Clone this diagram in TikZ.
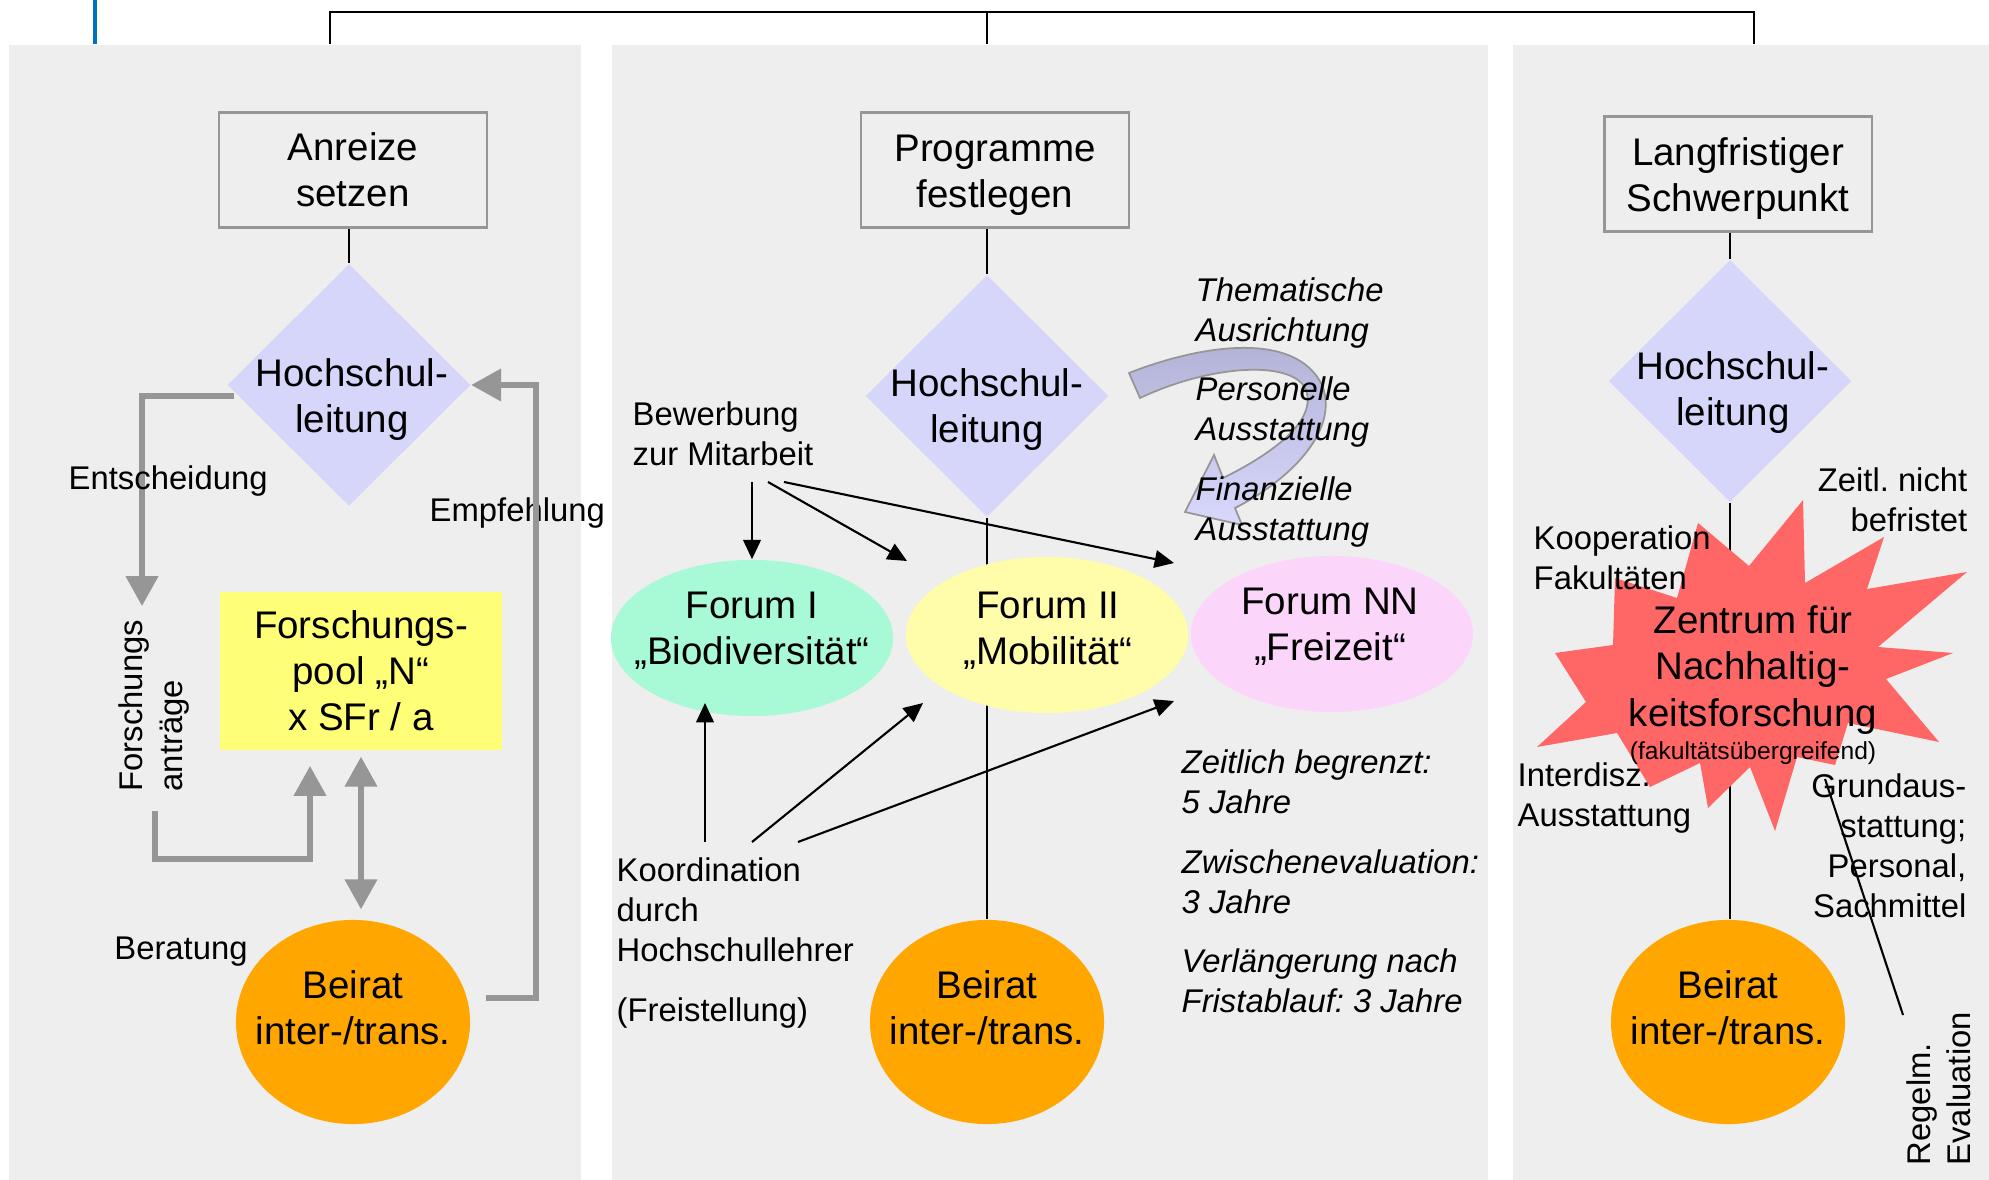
\documentclass[tikz,border=0pt]{standalone}
\usepackage{fontspec}
\setmainfont{Liberation Sans}
\usepackage{tikz}
\usetikzlibrary{shapes.geometric,arrows.meta,positioning,calc}
\definecolor{panelgray}{RGB}{238,238,238}
\definecolor{boxgray}{RGB}{150,150,150}
\definecolor{arrowgray}{RGB}{150,150,150}
\definecolor{leitblue}{RGB}{214,214,251}
\definecolor{beiratorange}{RGB}{255,166,0}
\definecolor{poolyellow}{RGB}{255,255,119}
\definecolor{forummint}{RGB}{168,250,214}
\definecolor{forumyellow}{RGB}{255,252,170}
\definecolor{forumpink}{RGB}{252,214,250}
\definecolor{starred}{RGB}{255,102,102}
\definecolor{curvetop}{RGB}{176,176,212}
\definecolor{curvebot}{RGB}{216,216,252}
\definecolor{topblue}{RGB}{0,112,192}
\newcommand{\bigtxt}{\fontsize{10.95}{13.1}\selectfont}
\newcommand{\smalltxt}{\fontsize{9.33}{11.4}\selectfont}
\newcommand{\tinytxt}{\fontsize{7.0}{8.4}\selectfont}
\frenchspacing

\begin{document}
\begin{tikzpicture}[
    x=0.01cm, y=-0.01cm,
    panel/.style={rectangle, fill=panelgray, inner sep=0, anchor=north west, minimum height=11.36cm},
    titlebox/.style={rectangle, draw=boxgray, line width=0.6pt, minimum width=2.67cm, minimum height=1.15cm, align=center, font=\bigtxt},
    leitung/.style={diamond, fill=leitblue, minimum width=2.43cm, minimum height=2.42cm, inner sep=0},
    beirat/.style={ellipse, fill=beiratorange, minimum width=2.34cm, minimum height=2.04cm, inner sep=0},
    forum/.style={ellipse, fill=#1, minimum width=2.82cm, minimum height=1.56cm, inner sep=0},
    bigtext/.style={font=\bigtxt, align=center, inner sep=0},
    note/.style={font=\smalltxt, align=#1, inner sep=0},
    note/.default=left,
    italnote/.style={font=\smalltxt\itshape, align=left, inner sep=0, anchor=west},
    link/.style={line width=0.6pt},
    thinarrow/.style={-{Triangle[length=5.5pt,width=5pt]}, line width=0.6pt},
    grayarrow/.style={draw=arrowgray, line width=1.5pt, -{Triangle[length=8.5pt,width=9pt]}},
]
    \useasboundingbox (0,0) rectangle (1989,1180);

    % Panels
    \node[panel, minimum width=5.72cm] (p1) at (8,44) {};
    \node[panel, minimum width=8.76cm] (p2) at (611,44) {};
    \node[panel, minimum width=4.77cm] (p3) at (1512,44) {};

    % Top connectors
    \draw[topblue, line width=0.9pt] (95,0) -- (95,44);
    \coordinate (bus) at (987,12);
    \coordinate (t1) at (330,44);
    \coordinate (t2) at (987,44);
    \coordinate (t3) at (1754,44);
    \draw[link] (t1) |- (bus) -| (t3);
    \draw[link] (bus) -- (t2);

    % Panel 1: Anreize setzen
    \node[titlebox] (box1) at (353,170) {Anreize\\setzen};
    \node[leitung] (d1) at (349,385) {};
    \node[bigtext] (d1t) at (352,400) {Hochschul-\\leitung};
    \draw[link] (box1.south -| d1.north) -- (d1.north);

    \node[fill=poolyellow, minimum width=2.82cm, minimum height=1.58cm, bigtext] (pool) at (361,671) {Forschungs-\\pool „N“\\x SFr / a};
    \node[beirat] (b1) at (353,1022) {};
    \node[bigtext] (b1t) at (353,1008) {Beirat\\inter-/trans.};

    \node[note, rotate=90, anchor=west] (antr) at (154,792) {Forschungs\\anträge};
    \node[note=center] (ber) at (181,952) {Beratung};
    \node[note, anchor=west] (empf) at (429,513) {Empfehlung};

    \coordinate (entTip) at (142,606);
    \coordinate (antrEnd) at (155,811);
    \coordinate (poolIn) at (310,766);
    \coordinate (empfStart) at (486,998);
    \draw[grayarrow] ([xshift=0.07cm,yshift=-0.11cm]d1.west) -| (entTip);
    \draw[grayarrow] (antrEnd) -- ++(0,48) -| (poolIn);
    \draw[grayarrow, {Triangle[length=8.5pt,width=9pt]}-{Triangle[length=8.5pt,width=9pt]}]
        ($(pool.south)+(0,6)$) -- ($(pool.south |- b1.north)+(0,-10)$);
    \draw[grayarrow] (empfStart) -- ++(50,0) |- (d1.east);
    \node[note, anchor=west] (ent) at (68,481) {Entscheidung};

    % Panel 2: Programme festlegen
    \node[titlebox] (box2) at (995,170) {\rule{0pt}{10.4pt}Programme\\festlegen};
    \node[leitung] (d2) at (987,396) {};
    \node[bigtext] (d2t) at (987,410) {Hochschul-\\leitung};
    \draw[link] (box2.south -| d2.north) -- (d2.north);

    \node[beirat] (b2) at (987,1022) {};
    \draw[link] (d2.south) -- (b2.north);
    \node[bigtext] (b2t) at (987,1008) {Beirat\\inter-/trans.};

    \node[forum=forummint] (f1) at (752,638) {};
    \node[forum=forumyellow] (f2) at (1047,635) {};
    \node[forum=forumpink] (f3) at (1332,634) {};
    \node[bigtext] (f1t) at (752,631) {Forum I\\„Biodiversität“};
    \node[bigtext] (f2t) at (1048,631) {Forum II\\„Mobilität“};
    \node[bigtext] (f3t) at (1330,627) {Forum NN\\„Freizeit“};

    \path[draw=boxgray, line width=0.5pt, top color=curvetop, bottom color=curvebot]
        (1129,373) .. controls (1200,345) and (1295,330) .. (1322,385)
        .. controls (1340,430) and (1290,480) .. (1235,508)
        -- (1242,525) -- (1185,512) -- (1214,455) -- (1223,478)
        .. controls (1270,455) and (1320,420) .. (1305,388)
        .. controls (1290,360) and (1210,365) .. (1140,398) -- cycle;
    \node[italnote] (them) at (1195,313) {Thematische\\Ausrichtung};
    \node[italnote] (pers) at (1195,412) {Personelle\\Ausstattung};
    \node[italnote] (fin) at (1195,512) {Finanzielle\\Ausstattung};

    \node[note, anchor=west] (bew) at (632,434) {Bewerbung\\zur Mitarbeit};
    \coordinate (bw1) at (752,482);
    \coordinate (bw2) at (768,482);
    \coordinate (bw3) at (784,482);
    \coordinate (bwTip2) at (907,561);
    \coordinate (bwTip3) at (1174,563);
    \draw[thinarrow] (bw1) -- (f1.north);
    \draw[thinarrow] (bw2) -- (bwTip2);
    \draw[thinarrow] (bw3) -- (bwTip3);

    \node[note, anchor=west] (koord) at (616,943) {Koordination\\durch\\Hochschullehrer\\[5.7pt](Freistellung)};
    \coordinate (ko1) at (705,842);
    \coordinate (ko2) at (752,842);
    \coordinate (ko3) at (798,842);
    \coordinate (koTip1) at (705,703);
    \coordinate (koTip2) at (923,703);
    \coordinate (koTip3) at (1174,701);
    \draw[thinarrow] (ko1) -- (koTip1);
    \draw[thinarrow] (ko2) -- (koTip2);
    \draw[thinarrow] (ko3) -- (koTip3);

    \node[italnote] (zeit) at (1181,782) {Zeitlich begrenzt:\\5 Jahre};
    \node[italnote] (zwev) at (1181,882) {Zwischenevaluation:\\3 Jahre};
    \node[italnote] (verl) at (1181,981) {Verlängerung nach\\Fristablauf: 3 Jahre};

    % Panel 3: Langfristiger Schwerpunkt
    \node[titlebox] (box3) at (1738,174) {\rule{0pt}{10.4pt}Langfristiger\\Schwerpunkt};
    \node[leitung] (d3) at (1730,381) {};
    \node[bigtext] (d3t) at (1733,393) {Hochschul-\\leitung};
    \draw[link] (box3.south -| d3.north) -- (d3.north);

    \node[beirat] (b3) at (1728,1022) {};
    \draw[link] (d3.south) -- (d3.south |- b3.north);
    \node[bigtext] (b3t) at (1728,1008) {Beirat\\inter-/trans.};

    \fill[starred] (1803,500) -- (1805,583) -- (1884,537) -- (1867,589) -- (1967,572)
        -- (1878,647) -- (1953,653) -- (1886,679) -- (1939,742) -- (1848,723)
        -- (1835,765) -- (1797,757) -- (1775,831) -- (1750,767) -- (1708,808)
        -- (1700,763) -- (1650,787) -- (1617,733) -- (1537,747) -- (1586,702)
        -- (1555,653) -- (1613,645) -- (1615,578) -- (1677,598) -- (1698,523)
        -- (1749,566) -- cycle;
    \node[bigtext] (zent) at (1753,670) {Zentrum für\\Nachhaltig-\\keitsforschung};
    \node[font=\tinytxt, inner sep=0] (fakue) at (1753,753) {(fakultätsübergreifend)};

    \node[note, anchor=west] (koop) at (1533,558) {Kooperation\\Fakultäten};
    \node[note=right, anchor=east] (befr) at (1968,500) {Zeitl. nicht\\befristet};
    \node[note, anchor=west] (inter) at (1517,798) {Interdisz.\\Ausstattung};
    \node[note=right, anchor=east] (grund) at (1967,846) {Grundaus-\\stattung;\\Personal,\\Sachmittel};
    \node[note, rotate=90, anchor=west] (regel) at (1939,1166) {Regelm.\\Evaluation};
    \coordinate (grundTop) at (1825,779);
    \coordinate (regelTop) at (1903,1015);
    \draw[link] (grundTop) -- (regelTop);
\end{tikzpicture}
\end{document}
